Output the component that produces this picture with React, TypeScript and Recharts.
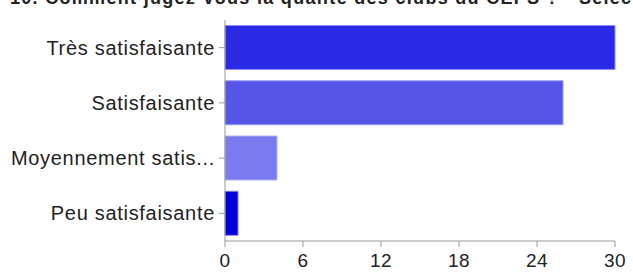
import { BarChart, Bar, Cell, XAxis, YAxis } from "recharts";

const categories = ["Très satisfaisante", "Satisfaisante", "Moyennement satis...", "Peu satisfaisante"];
const counts = [30, 26, 4, 1];
const barColors = ["#2a2ae6", "#5555e8", "#7b7bef", "#0000dd"];
const edgeColors = ["#8f8ff2", "#9c9cf2", "#b0b0f6", "#7f7fee"];
const xTicks = [0, 6, 12, 18, 24, 30];
const title = "10. Comment jugez-vous la qualité des clubs du CEPS ? - Sélectionnez une réponse";

const data = categories.map((name, i) => ({ name, value: counts[i] }));

const FONT = "'Liberation Sans', Arial, Helvetica, sans-serif";

export default function App() {
    return (
        <div style={{ position: "absolute", left: 0, top: 0, width: 633, height: 273, background: "#fff", overflow: "hidden" }}>
            <svg width={633} height={273} style={{ position: "absolute", left: 0, top: 0 }}>
                <text x={10} y={4} fontFamily={FONT} fontSize={18} fontWeight="bold" letterSpacing={1.3} fill="#222">{title}</text>
            </svg>
            <div style={{ position: "absolute", left: 0, top: 0 }}>
                <BarChart
                    width={633}
                    height={273}
                    data={data}
                    layout="vertical"
                    margin={{ top: 20, right: 18, bottom: 0, left: 0 }}
                    barCategoryGap="10%"
                >
                    <XAxis
                        type="number"
                        domain={[0, 30]}
                        ticks={xTicks}
                        height={32}
                        stroke="#999"
                        tickSize={6}
                        tickMargin={7}
                        tick={{ fill: "#222", fontSize: 19, fontFamily: FONT, letterSpacing: 0.5 }}
                    />
                    <YAxis
                        type="category"
                        dataKey="name"
                        width={225}
                        stroke="#999"
                        tickSize={6}
                        tickMargin={4}
                        interval={0}
                        tick={{ fill: "#222", fontSize: 20, fontFamily: FONT, letterSpacing: 0.7 }}
                    />
                    <Bar dataKey="value" isAnimationActive={false} strokeWidth={1}>
                        {data.map((d, i) => (
                            <Cell key={d.name} fill={barColors[i]} stroke={edgeColors[i]} />
                        ))}
                    </Bar>
                </BarChart>
            </div>
        </div>
    );
}
